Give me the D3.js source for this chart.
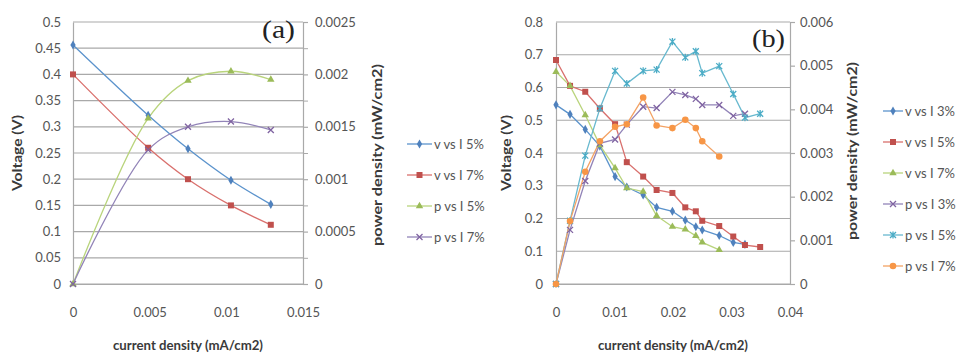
<!DOCTYPE html>
<html>
<head>
<meta charset="utf-8">
<script src="https://cdn.jsdelivr.net/npm/d3@7"></script>
<style>
  html, body { margin: 0; padding: 0; background: #fff; }
  svg { display: block; }
  text { font-family: Lato, "Open Sans", "DejaVu Sans", sans-serif; }
  text.panel-letter { font-family: "Liberation Serif", "DejaVu Serif", serif; }
</style>
</head>
<body>
<svg id="chart" width="959" height="354"></svg>
<script>
// ---------- Panel (a): polarisation and power curves, 5 % and 7 % ----------
const aCurrent = [0, 0.0049, 0.0075, 0.0103, 0.0129];
const aVolt5   = [0.456, 0.322, 0.258, 0.198, 0.152];
const aVolt7   = [0.400, 0.260, 0.200, 0.150, 0.113];
const aPow5    = [0, 0.00158, 0.00194, 0.00203, 0.00195];
const aPow7    = [0, 0.00128, 0.00150, 0.00155, 0.00147];

const aCurrentTicks = [0, 0.005, 0.01, 0.015];
const aVoltTicks    = [0, 0.05, 0.1, 0.15, 0.2, 0.25, 0.3, 0.35, 0.4, 0.45, 0.5];
const aPowTicks     = [0, 0.0005, 0.001, 0.0015, 0.002, 0.0025];
const aPowMinor     = [0.00025, 0.00075, 0.00125, 0.00175, 0.00225];

// ---------- Panel (b): polarisation and power curves, 3 %, 5 % and 7 % ----------
const bCurrent = [0, 0.0024, 0.005, 0.0075, 0.0101, 0.0121, 0.0149, 0.0172,
                  0.0199, 0.0221, 0.0239, 0.025, 0.0279, 0.0303, 0.0323, 0.0349];
const bVolt3 = [0.547, 0.518, 0.472, 0.421, 0.328, 0.296, 0.272, 0.234,
                0.222, 0.195, 0.175, 0.165, 0.148, 0.127, 0.121];
const bVolt5 = [0.684, 0.605, 0.587, 0.536, 0.488, 0.372, 0.328, 0.287,
                0.278, 0.234, 0.222, 0.193, 0.177, 0.145, 0.119, 0.113];
const bVolt7 = [0.648, 0.605, 0.516, 0.424, 0.354, 0.293, 0.282, 0.208,
                0.175, 0.167, 0.147, 0.127, 0.104];
const bPow3  = [0, 0.00124, 0.00236, 0.00322, 0.00331, 0.00365, 0.00406, 0.00403,
                0.0044, 0.00433, 0.00424, 0.0041, 0.0041, 0.00385, 0.0039];
const bPow5  = [0, 0.00145, 0.00294, 0.00402, 0.00488, 0.00459, 0.00488, 0.00491,
                0.00555, 0.00519, 0.00533, 0.00483, 0.00499, 0.00435, 0.00381, 0.0039];
const bPow7  = [0, 0.00144, 0.00257, 0.00327, 0.0036, 0.00366, 0.00427, 0.00363,
                0.00357, 0.00376, 0.00357, 0.00327, 0.00292];

const bCurrentTicks = [0, 0.01, 0.02, 0.03, 0.04];
const bVoltTicks    = [0, 0.1, 0.2, 0.3, 0.4, 0.5, 0.6, 0.7, 0.8];
const bPowTicks     = [0, 0.001, 0.002, 0.003, 0.004, 0.005, 0.006];

// ---------- styling ----------
const COLORS = {
  blue:   { mark: "#4f81bd", line: "#5b93cc" },
  red:    { mark: "#c0504d", line: "#d9706d" },
  green:  { mark: "#9bbb59", line: "#b9d47c" },
  purple: { mark: "#8064a2", line: "#9284b8" },
  aqua:   { mark: "#4bacc6", line: "#68b9cf" },
  orange: { mark: "#f79646", line: "#f3a264" }
};
const GRID = "#a9a9a9";
const TICK_TEXT = "#555";
const TITLE_TEXT = "#3a3a3a";

const svg = d3.select("#chart");

function markerPath(kind) {
  switch (kind) {
    case "diamond":  return d3.symbol(d3.symbolDiamond, 24)();
    case "square":   return d3.symbol(d3.symbolSquare, 36)();
    case "triangle": return d3.symbol(d3.symbolTriangle, 24)();
    case "circle":   return d3.symbol(d3.symbolCircle, 34)();
    case "x":        return "M-3,-3L3,3M-3,3L3,-3";
    case "star":     return "M-3,-3L3,3M-3,3L3,-3M0,-3.6L0,3.6";
  }
}
const strokeMarker = k => k === "x" || k === "star";

function drawMarker(g, kind, color, x, y) {
  const p = g.append("path")
    .attr("d", markerPath(kind))
    .attr("transform", `translate(${x},${y})`);
  if (strokeMarker(kind)) p.attr("fill", "none").attr("stroke", color).attr("stroke-width", 1.3);
  else p.attr("fill", color).attr("stroke", "none");
}

function drawPanel(cfg) {
  const g = svg.append("g");
  const x  = d3.scaleLinear().domain(cfg.xDomain).range([cfg.left, cfg.right]);
  const yL = d3.scaleLinear().domain(cfg.yLDomain).range([cfg.bottom, cfg.top]);
  const yR = d3.scaleLinear().domain(cfg.yRDomain).range([cfg.bottom, cfg.top]);

  // horizontal gridlines from the voltage axis
  g.append("g").selectAll("line").data(cfg.yLTicks).join("line")
    .attr("x1", cfg.left).attr("x2", cfg.right)
    .attr("y1", d => yL(d)).attr("y2", d => yL(d))
    .attr("stroke", GRID).attr("stroke-width", 1.2);

  // left (voltage) axis
  const axL = g.append("g").attr("transform", `translate(${cfg.left},0)`)
    .call(d3.axisLeft(yL).tickValues(cfg.yLTicks).tickSize(0).tickPadding(cfg.leftPad)
      .tickFormat(d => String(d)));
  // right (power) axis
  const axR = g.append("g").attr("transform", `translate(${cfg.right},0)`)
    .call(d3.axisRight(yR).tickValues(cfg.yRTicks).tickSizeInner(5).tickSizeOuter(0)
      .tickPadding(cfg.rightPad).tickFormat(d => String(d)));
  if (cfg.yRMinor) {
    g.append("g").attr("transform", `translate(${cfg.right},0)`)
      .call(d3.axisRight(yR).tickValues(cfg.yRMinor).tickSize(5).tickFormat(""))
      .call(a => a.select(".domain").remove());
  }
  // bottom (current density) axis
  const axB = g.append("g").attr("transform", `translate(0,${cfg.bottom})`)
    .call(d3.axisBottom(x).tickValues(cfg.xTicks).tickSize(0).tickPadding(cfg.bottomPad)
      .tickFormat(d => String(d)));

  [axL, axR, axB].forEach(a => {
    a.attr("font-family", null).attr("font-size", null);
    a.selectAll(".domain").attr("stroke", GRID).attr("stroke-width", 1.2);
    a.selectAll(".tick line").attr("stroke", GRID).attr("stroke-width", 1.2);
    a.selectAll("text").attr("fill", TICK_TEXT).style("font-size", "13px");
  });
  g.selectAll(".tick line").attr("stroke", GRID);

  // series
  const lineGen = (xs, ys, yScale) => {
    const gen = d3.line().x(d => x(d[0])).y(d => yScale(d[1]));
    if (cfg.smooth) gen.curve(d3.curveCatmullRom.alpha(0.5));
    return gen(ys.map((v, i) => [xs[i], v]));
  };
  cfg.series.forEach(s => {
    const yScale = s.axis === "left" ? yL : yR;
    g.append("path")
      .attr("d", lineGen(s.x, s.y, yScale))
      .attr("fill", "none")
      .attr("stroke", COLORS[s.color].line)
      .attr("stroke-width", 1.3);
  });
  cfg.series.forEach(s => {
    const yScale = s.axis === "left" ? yL : yR;
    s.y.forEach((v, i) => drawMarker(g, s.mark, COLORS[s.color].mark, x(s.x[i]), yScale(v)));
  });

  // axis titles
  g.append("text")
    .attr("x", (cfg.left + cfg.right) / 2).attr("y", 349.5)
    .attr("text-anchor", "middle").attr("font-weight", "bold").attr("font-size", 13)
    .attr("fill", TITLE_TEXT)
    .attr("textLength", 150).attr("lengthAdjust", "spacingAndGlyphs")
    .text("current density (mA/cm2)");
  g.append("text")
    .attr("transform", `translate(${cfg.leftTitleX},${cfg.leftTitleY}) rotate(-90)`)
    .attr("text-anchor", "middle").attr("font-weight", "bold").attr("font-size", 13)
    .attr("fill", TITLE_TEXT)
    .attr("textLength", 76).attr("lengthAdjust", "spacingAndGlyphs")
    .text("Voltage (V)");
  g.append("text")
    .attr("transform", `translate(${cfg.rightTitleX},${cfg.rightTitleY}) rotate(-90)`)
    .attr("text-anchor", "middle").attr("font-weight", "bold").attr("font-size", 13)
    .attr("fill", TITLE_TEXT)
    .attr("textLength", cfg.rightTitleLen).attr("lengthAdjust", "spacingAndGlyphs")
    .text("power density (mW/cm2)");

  // panel letter
  g.append("text")
    .attr("class", "panel-letter")
    .attr("x", cfg.letterX).attr("y", cfg.letterY)
    .attr("font-size", 25).attr("fill", "#222")
    .attr("textLength", 33).attr("lengthAdjust", "spacingAndGlyphs")
    .text(cfg.letter);

  // legend
  const lg = g.append("g");
  cfg.series.forEach((s, i) => {
    const yy = cfg.legendY + i * 31;
    lg.append("line")
      .attr("x1", cfg.legendX).attr("x2", cfg.legendX + cfg.legendLine)
      .attr("y1", yy).attr("y2", yy)
      .attr("stroke", COLORS[s.color].line).attr("stroke-width", 1.3);
    drawMarker(lg, s.mark, COLORS[s.color].mark, cfg.legendX + cfg.legendLine / 2, yy);
    lg.append("text")
      .attr("x", cfg.legendX + cfg.legendLine + 2).attr("y", yy + 4.5)
      .attr("font-size", 13).attr("fill", TICK_TEXT)
      .text(s.name);
  });
}

drawPanel({
  left: 73, right: 303, top: 22, bottom: 284,
  xDomain: [0, 0.015], yLDomain: [0, 0.5], yRDomain: [0, 0.0025],
  xTicks: aCurrentTicks, yLTicks: aVoltTicks, yRTicks: aPowTicks, yRMinor: aPowMinor,
  leftPad: 12, rightPad: 7, bottomPad: 24,
  smooth: true,
  leftTitleX: 22, leftTitleY: 153,
  rightTitleX: 382, rightTitleY: 155, rightTitleLen: 182,
  letter: "(a)", letterX: 262, letterY: 38,
  legendX: 407, legendLine: 25, legendY: 144,
  series: [
    { name: "v vs I 5%", x: aCurrent, y: aVolt5, axis: "left",  color: "blue",   mark: "diamond" },
    { name: "v vs I 7%", x: aCurrent, y: aVolt7, axis: "left",  color: "red",    mark: "square" },
    { name: "p vs I 5%", x: aCurrent, y: aPow5,  axis: "right", color: "green",  mark: "triangle" },
    { name: "p vs I 7%", x: aCurrent, y: aPow7,  axis: "right", color: "purple", mark: "x" }
  ]
});

drawPanel({
  left: 556, right: 790, top: 22, bottom: 284,
  xDomain: [0, 0.04], yLDomain: [0, 0.8], yRDomain: [0, 0.006],
  xTicks: bCurrentTicks, yLTicks: bVoltTicks, yRTicks: bPowTicks, yRMinor: null,
  leftPad: 13, rightPad: 5, bottomPad: 24,
  smooth: false,
  leftTitleX: 511, leftTitleY: 153,
  rightTitleX: 857, rightTitleY: 151, rightTitleLen: 178,
  letter: "(b)", letterX: 752, letterY: 47,
  legendX: 883, legendLine: 20, legendY: 111,
  series: [
    { name: "v vs I 3%", x: bCurrent, y: bVolt3, axis: "left",  color: "blue",   mark: "diamond" },
    { name: "v vs I 5%", x: bCurrent, y: bVolt5, axis: "left",  color: "red",    mark: "square" },
    { name: "v vs I 7%", x: bCurrent, y: bVolt7, axis: "left",  color: "green",  mark: "triangle" },
    { name: "p vs I 3%", x: bCurrent, y: bPow3,  axis: "right", color: "purple", mark: "x" },
    { name: "p vs I 5%", x: bCurrent, y: bPow5,  axis: "right", color: "aqua",   mark: "star" },
    { name: "p vs I 7%", x: bCurrent, y: bPow7,  axis: "right", color: "orange", mark: "circle" }
  ]
});
</script>
</body>
</html>
